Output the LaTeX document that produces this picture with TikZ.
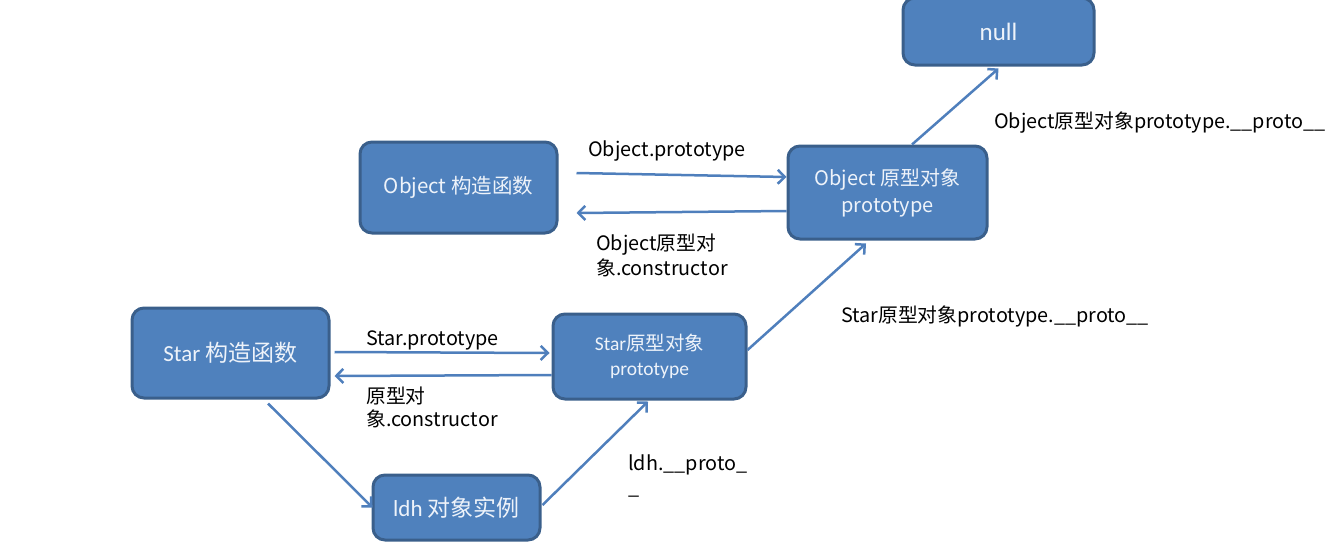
\documentclass[tikz,border=0pt]{standalone}
\usepackage{fontspec}
\setmainfont{Noto Sans CJK SC}
\newfontfamily\latinbox{Carlito}
\usetikzlibrary{arrows.meta,calc}
\definecolor{boxfill}{HTML}{4F81BD}
\definecolor{boxline}{HTML}{3A5F8B}
\definecolor{arrline}{HTML}{4F7FBC}
\definecolor{boxtext}{HTML}{EEF3FA}
\begin{document}
\begin{tikzpicture}[x=1pt,y=-1pt,
  box/.style={draw=boxline,fill=boxfill,line width=3pt,rounded corners=12pt,
    text=boxtext,align=center,inner sep=0pt},
  arr/.style={draw=arrline,line width=2.5pt,-{Straight Barb[length=7pt,width=14pt]}},
  lbl/.style={inner sep=0pt,anchor=west,font=\fontsize{19.8}{23}\selectfont,align=left}]
\useasboundingbox (0,0) rectangle (1340,552);
\node[box,minimum width=191pt,minimum height=67pt,font=\fontsize{25}{28}\selectfont] (nl) at (998.5,31.5) {{\latinbox null}};
\node[box,minimum width=197pt,minimum height=91pt,font=\fontsize{20.5}{24}\selectfont] (oc) at (458.5,187.5) {Object 构造函数};
\node[box,minimum width=199pt,minimum height=93pt,font=\fontsize{20}{27}\selectfont] (op) at (887.5,192.5) {Object 原型对象\\prototype};
\node[box,minimum width=197pt,minimum height=90pt,font=\fontsize{23}{26}\selectfont] (sc) at (230.5,353) {{\latinbox Star} 构造函数};
\node[box,minimum width=193pt,minimum height=85pt,font=\fontsize{19.5}{25}\selectfont] (sp) at (649.5,356.5) {{\latinbox Star}原型对象\\{\latinbox prototype}};
\node[box,minimum width=167pt,minimum height=65pt,font=\fontsize{23}{26}\selectfont] (ld) at (456.5,507.5) {{\latinbox ldh} 对象实例};

\draw[arr] ($(oc.east)+(18,-14.5)$) -- ($(op.west)+(0,-15.5)$);
\draw[arr] ($(op.west)+(0,18.5)$) -- ($(oc.east)+(18,25.5)$);
\draw[arr] ($(op.north)+(24.5,0)$) -- ($(nl.south)+(0,2)$);
\draw[arr] ($(sp.east)+(0,-6.5)$) -- ($(op.south)+(-21.5,3)$);
\draw[arr] ($(sc.east)+(4,-1)$) -- ($(sp.west)+(-2,-3.5)$);
\draw[arr] ($(sp.west)+(0,18.5)$) -- ($(sc.east)+(4,23)$);
\draw[arr] ($(sc.south)+(37.5,4)$) -- ($(ld.west)+(1,0)$);
\draw[arr] ($(ld.east)+(1,-2.5)$) -- ($(sp.south)+(-1.5,1)$);

\node[lbl] (l1) at (588,151) {Object.prototype};
\node[lbl] (l2a) at (596,245) {Object原型对};
\node[lbl] (l2b) at (596,268) {象.constructor};
\node[lbl] (l3) at (994,123) {Object原型对象prototype.\_\_proto\_\_};
\node[lbl] (l4) at (841,316) {Star原型对象prototype.\_\_proto\_\_};
\node[lbl] (l5) at (366,340) {Star.prototype};
\node[lbl] (l6a) at (366,396) {原型对};
\node[lbl] (l6b) at (366,419) {象.constructor};
\node[lbl,anchor=north west,font=\fontsize{19.8}{24}\selectfont] (l7) at (628,455) {ldh.\_\_proto\_\\\_};
\end{tikzpicture}
\end{document}
